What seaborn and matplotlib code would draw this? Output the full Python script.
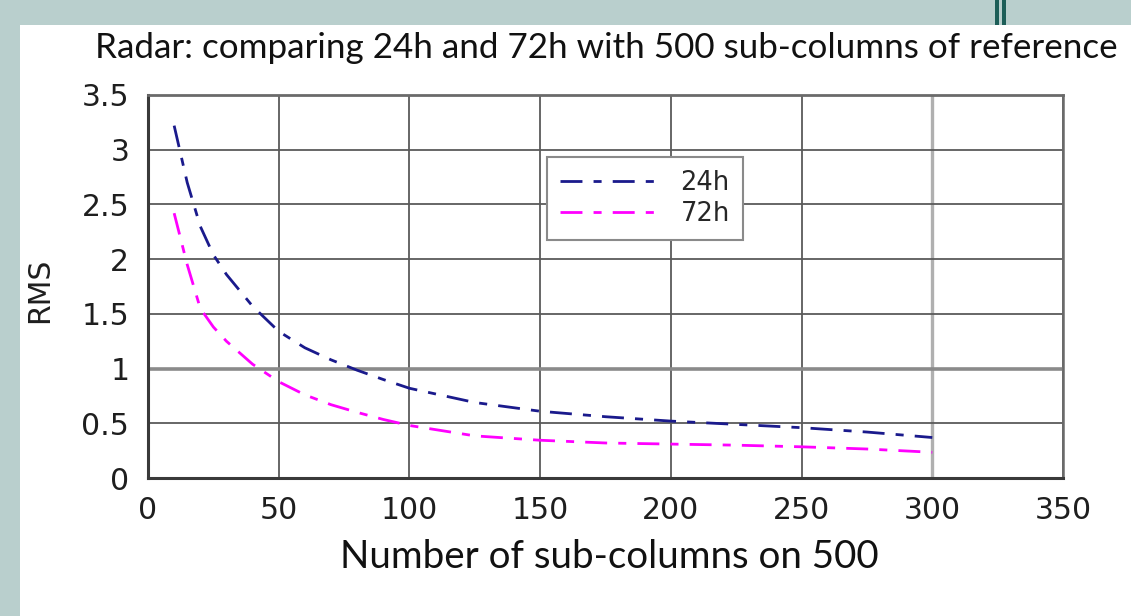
import matplotlib
matplotlib.use("Agg")
import matplotlib.pyplot as plt
import numpy as np
import pandas as pd
import seaborn as sns
from matplotlib.patches import Rectangle

# ---------------- data ----------------
x_cols = [10, 15, 20, 25, 30, 40, 50, 60, 70, 80, 90, 100, 125, 150, 175, 200, 225, 250, 275, 300]
rms_24h = [3.22, 2.70, 2.30, 2.04, 1.86, 1.57, 1.34, 1.19, 1.08, 0.985, 0.90, 0.82, 0.69, 0.61, 0.56, 0.52, 0.49, 0.46, 0.42, 0.37]
rms_72h = [2.42, 1.95, 1.55, 1.38, 1.25, 1.04, 0.88, 0.76, 0.67, 0.60, 0.535, 0.48, 0.385, 0.345, 0.32, 0.31, 0.30, 0.285, 0.265, 0.235]
series_names = ["24h", "72h"]
x_ticks = [0, 50, 100, 150, 200, 250, 300, 350]
y_ticks = [0, 0.5, 1, 1.5, 2, 2.5, 3, 3.5]
y_tick_labels = ["0", "0.5", "1", "1.5", "2", "2.5", "3", "3.5"]
title_text = "Radar: comparing 24h and 72h with 500 sub-columns of reference"
x_label = "Number of sub-columns on 500"
y_label = "RMS"

n = len(x_cols)
df = pd.DataFrame({
    "x": x_cols * 2,
    "RMS": rms_24h + rms_72h,
    "series": [series_names[0]] * n + [series_names[1]] * n,
})

# ---------------- figure ----------------
sns.set_style("white")
plt.rcParams["font.family"] = ["DejaVu Sans"]

W, H = 1131, 616
fig = plt.figure(figsize=(W / 100, H / 100), dpi=100)
fig.patch.set_facecolor("#b9cfcd")
# white slide panel
fig.patches.append(Rectangle((20 / W, 0), 1, 1 - 25 / H, transform=fig.transFigure,
                             facecolor="white", edgecolor="none", zorder=-2))
# small decorative bars at top right
fig.patches.append(Rectangle((995 / W, 1 - 25 / H), 4 / W, 25 / H, transform=fig.transFigure,
                             facecolor="#1d5e58", edgecolor="none", zorder=-1))
fig.patches.append(Rectangle((1002 / W, 1 - 25 / H), 4 / W, 25 / H, transform=fig.transFigure,
                             facecolor="#1d5e58", edgecolor="none", zorder=-1))

ax = fig.add_axes([148 / W, 1 - 478 / H, (1063 - 148) / W, (478 - 95) / H])
ax.set_facecolor("white")

dash = (7.9, 4.0, 2.9, 4.0)
sns.lineplot(data=df, x="x", y="RMS", hue="series", style="series",
             palette={"24h": "#1a1a8c", "72h": "#ff00ff"},
             dashes={"24h": dash, "72h": dash},
             linewidth=2.0, estimator=None, legend=False, ax=ax, zorder=3)

ax.set_xlim(0, 350)
ax.set_ylim(0, 3.5)
ax.set_xticks(x_ticks)
ax.set_xticklabels([str(v) for v in x_ticks])
ax.set_yticks(y_ticks)
ax.set_yticklabels(y_tick_labels)

ax.grid(True, color="#5a5a5a", linewidth=1.3)
ax.set_axisbelow(True)
for t, v in zip(ax.yaxis.get_major_ticks(), y_ticks):
    if v == 1:
        t.gridline.set_color("#8a8a8a")
        t.gridline.set_linewidth(2.6)
for t, v in zip(ax.xaxis.get_major_ticks(), x_ticks):
    if v == 300:
        t.gridline.set_color("#b0b0b0")
        t.gridline.set_linewidth(2.4)

for side, col, lw in [("left", "#3a3a3a", 2.2), ("bottom", "#3a3a3a", 2.2),
                      ("top", "#6a6a6a", 2.0), ("right", "#6a6a6a", 1.8)]:
    ax.spines[side].set_visible(True)
    ax.spines[side].set_color(col)
    ax.spines[side].set_linewidth(lw)

ax.tick_params(axis="both", direction="out", length=7, width=1.2, color="#5a5a5a",
               labelsize=21.5, labelcolor="#1e1e1e", pad=6)
ax.tick_params(axis="y", pad=6.5)

ax.set_xlabel(x_label, fontsize=21, family=["Lato", "DejaVu Sans"], color="#111111", va="center")
ax.xaxis.set_label_coords((609 - 148) / 915, (478 - 557) / 383)
ax.set_ylabel(y_label, fontsize=21.5, color="#1e1e1e", va="center")
ax.yaxis.set_label_coords((40 - 148) / 915, (478 - 290) / 383)

title = fig.text(606 / W, 1 - 48 / H, title_text, ha="center", va="center",
                 fontsize=22, family=["Lato", "DejaVu Sans"], color="#111111")

leg = ax.legend(handles=ax.lines[:2], labels=series_names, loc="upper left",
                bbox_to_anchor=((547 - 148) / 915, (478 - 157) / 383), borderaxespad=0,
                fontsize=18.5, handlelength=3.7, handletextpad=1.0, borderpad=0.5,
                labelspacing=0.2, fancybox=False, framealpha=1, facecolor="white",
                edgecolor="#8a8a8a")
leg.get_frame().set_linewidth(1.5)

# fit text widths to reference extents
fig.canvas.draw()
r = fig.canvas.get_renderer()
bb = title.get_window_extent(r)
title.set_fontsize(22 * (1115 - 97) / bb.width)
xl = ax.xaxis.label
bb = xl.get_window_extent(r)
xl.set_fontsize(21 * (878 - 340) / bb.width)

fig.savefig("out.png", dpi=100, facecolor=fig.get_facecolor())
